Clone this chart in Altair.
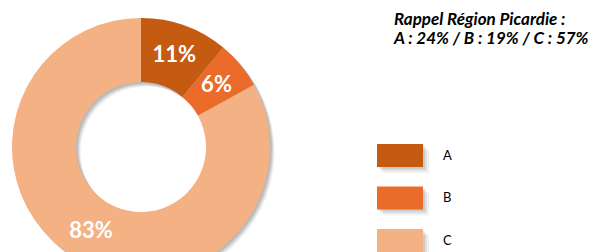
import altair as alt
import pandas as pd

categories = ["A", "B", "C"]
values = [11, 6, 83]
labels = ["11%", "6%", "83%"]
colors = ["#C55A11", "#EB6B2B", "#F4B183"]
note_lines = ["Rappel Région Picardie :", "A : 24% / B : 19% / C : 57%"]

df = pd.DataFrame({"cat": categories, "val": values, "lab": labels, "idx": [0, 1, 2]})
notes = pd.DataFrame({"line": note_lines, "i": [0, 1]})

CX, CY = 133, 139
R, R2 = 129, 65

color = alt.Color("cat:N", scale=alt.Scale(domain=categories, range=colors), legend=None)
theta = alt.Theta("val:Q", stack=True)
order = alt.Order("cat:N")

base = alt.Chart(df)

shadows = []
for d, op in [(6, 0.04), (5, 0.05), (4, 0.06), (3, 0.07), (2, 0.08)]:
    shadows.append(base.mark_arc(radius=R, radius2=R2, color="#000000", opacity=op).encode(
        theta=theta, order=order, x=alt.value(CX + d * 0.8), y=alt.value(CY + d * 0.8)))

donut = base.mark_arc(radius=R, radius2=R2).encode(
    theta=theta, color=color, order=order, x=alt.value(CX), y=alt.value(CY))

pct = base.mark_text(radius=98, font="Lato", fontWeight="bold", fontSize=22,
                     color="white", baseline="middle").encode(
    theta=theta, order=order, text="lab:N", x=alt.value(CX), y=alt.value(CY))

yleg = alt.Y("idx:Q", scale=alt.Scale(domain=[0, 2], range=[147.5, 232.5]), axis=None)
rect_path = "M-1,-0.5H1V0.5H-1Z"

leg_shadows = []
for d, op in [(6, 0.05), (4, 0.07), (2, 0.09)]:
    leg_shadows.append(base.mark_point(shape=rect_path, size=2116, filled=True, color="#000000",
                                       opacity=op, xOffset=d, yOffset=d, strokeWidth=0).encode(
        x=alt.value(392), y=yleg))
leg_sym = base.mark_point(shape=rect_path, size=2116, filled=True, opacity=1, strokeWidth=0).encode(
    x=alt.value(392), y=yleg, color=color)
leg_txt = base.mark_text(align="left", baseline="middle", font="Lato", fontSize=13,
                         color="#000000").encode(
    x=alt.value(435), y=yleg, text="cat:N")

note = alt.Chart(notes).mark_text(align="left", baseline="alphabetic", font="Lato",
                                  fontWeight="bold", fontStyle="italic", fontSize=17,
                                  color="#000000").encode(
    x=alt.value(386),
    y=alt.Y("i:Q", scale=alt.Scale(domain=[0, 1], range=[17, 35.5]), axis=None),
    text="line:N")

chart = alt.layer(*shadows, donut, pct, *leg_shadows, leg_sym, leg_txt, note).resolve_scale(
    y="independent"
).properties(
    width=581, height=244, padding=0, autosize="none"
).configure_view(stroke=None)

chart.save("out.html", embed_options={"renderer": "svg", "actions": False})
